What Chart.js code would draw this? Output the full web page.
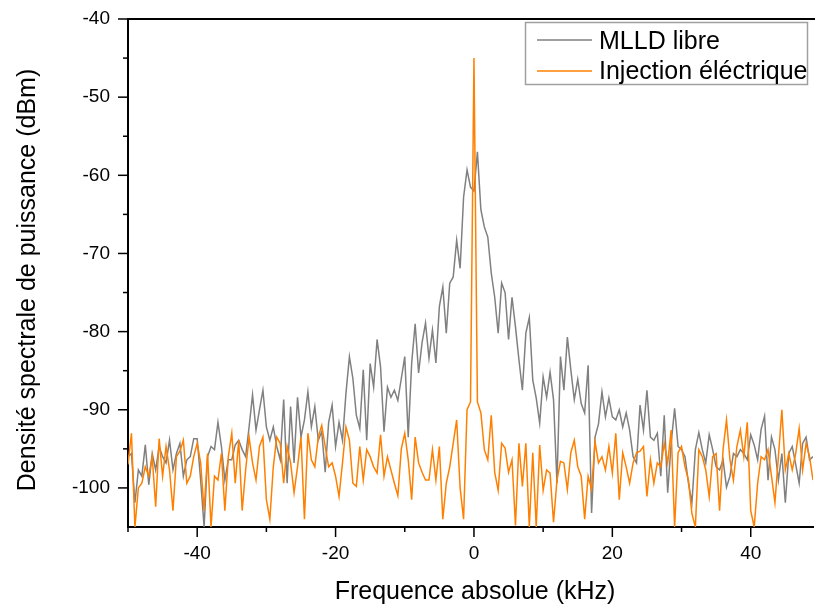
<!DOCTYPE html>
<html>
<head>
<meta charset="utf-8">
<script src="https://cdn.jsdelivr.net/npm/chart.js@4.4.1/dist/chart.umd.min.js"></script>
<style>
  html, body { margin: 0; padding: 0; background: #fff; }
  #wrap { width: 815px; height: 608px; }
</style>
</head>
<body>
<div id="wrap"><canvas id="spectre" width="815" height="608"></canvas></div>
<script>
// Grille en fréquence (kHz)
const freqStart = -50;
const freqStep = 0.5;

// MLLD libre (dBm), de -50 à 49.5 kHz
const mlldLibre = [
  -96, -95.6, -101.9, -97.7, -98.5, -94.5, -99.6, -95.6, -97.7, -94.7,
  -96, -96.8, -93.9, -97.7, -95.6, -94.3, -98.5, -96.4, -96, -93.7,
  -93.7, -99, -105, -96, -94.7, -95.1, -91.6, -94.7, -99, -96.4,
  -96.4, -94.5, -93.9, -95.1, -96, -92.2, -88.1, -92.6, -90, -87.5,
  -92.2, -93.9, -92.2, -94.7, -96.4, -88.7, -99.4, -89.6, -96.8, -88.4,
  -93.5, -91.3, -87.7, -92.2, -89.6, -93.9, -92.8, -98, -91.6, -89.4,
  -94.7, -91.6, -93.9, -87.9, -83.2, -86, -90.7, -92.4, -84.9, -93.9,
  -84.1, -87.1, -81, -84.5, -92.8, -87.1, -88.4, -87.5, -88.8, -86,
  -83.2, -93.5, -84, -79, -85.3, -81.4, -78.9, -83.4, -79.8, -84,
  -76.8, -74.3, -80.2, -73.8, -73, -68.3, -71.9, -62.8, -59.3, -61.5,
  -62, -57, -64.4, -66.6, -67.9, -72.5, -75.6, -80.2, -73.8, -75,
  -81, -75.6, -79.4, -83.6, -87.5, -80.2, -78.2, -86.2, -88.5, -91.7,
  -85.8, -88.4, -85.2, -88.7, -99.4, -83.2, -87.5, -80.7, -84.9, -88.7,
  -86.1, -89.2, -90.4, -84.3, -103.2, -93.5, -91.8, -87.7, -90.9, -88.5,
  -90.9, -91.3, -90, -92.2, -90.4, -92.6, -96, -96.8, -89.4, -92.6,
  -87.5, -93.5, -93.9, -93, -98.5, -90.7, -100.6, -94.3, -89.8, -94.7,
  -95.1, -96, -99.4, -101.9, -95.1, -92.9, -95.1, -96.8, -93.2, -95.1,
  -97.3, -97.7, -96.4, -99.9, -98.5, -95.6, -96, -95.1, -95.6, -96.4,
  -93.2, -94.5, -96.4, -92.5, -90.8, -99, -93.5, -95.1, -99, -95.6,
  -101.9, -95.6, -94.7, -97, -99.4, -94.3, -93.5, -96.4, -96, -95.5
];

// Injection électrique (dBm), même grille
const injection = [
  -97, -93, -105, -100, -99.4, -97.3, -98.5, -96, -102.4, -93.7,
  -98.5, -94.7, -97.7, -102.9, -96, -95.3, -93.9, -99.4, -98.5, -96,
  -94.3, -96.8, -102.9, -95.6, -105, -98.5, -99, -95.6, -102.9, -96,
  -93, -99.4, -93.9, -102.9, -97.7, -93.5, -96.8, -99, -94.7, -93.5,
  -101.5, -104, -97.3, -93.5, -94.3, -99.4, -94.7, -96.8, -100.6, -97.3,
  -93.5, -104, -93, -96.4, -97.3, -93.5, -92, -94.7, -97.3, -96.8,
  -98.5, -101.1, -96.8, -92.2, -93.9, -99.4, -99.8, -94.7, -99, -95.1,
  -96, -97.3, -98.1, -93.2, -98.5, -96, -97.7, -99.4, -101, -95,
  -93, -96.4, -101.5, -93.5, -96.8, -98, -99, -99, -95.1, -99,
  -94.7, -104, -99.4, -97.3, -94.3, -91.3, -100, -104, -90, -89,
  -45, -89, -90.4, -95.1, -96.4, -90.7, -98, -100.3, -94.3, -94.9,
  -98, -96.4, -104.8, -94.3, -99.8, -94.3, -105, -95.5, -105, -94.5,
  -100.3, -97.7, -98.1, -104.4, -99, -96.6, -96.8, -100.2, -95.5, -93.9,
  -97.3, -98.5, -104, -98.5, -100.2, -94.1, -96.8, -96, -97.7, -94.7,
  -98.1, -93, -101.5, -95.5, -97.3, -99.4, -96.8, -95.5, -95.3, -94.7,
  -101.1, -96.4, -99.4, -96.8, -97.3, -94.3, -96.8, -92.6, -105, -95.5,
  -94.7, -97.3, -99, -103.3, -105, -95.1, -96, -97.7, -101.1, -96,
  -95.6, -102.9, -95.1, -91.3, -96.4, -99, -94.7, -92.6, -96, -91.6,
  -102.9, -105, -99.4, -96, -96.4, -95.1, -98.5, -101.9, -96, -90,
  -97.7, -95.6, -97.7, -95.6, -92.4, -97.7, -94.3, -96, -99, -97
];

// Graduations
const xTicksMajeurs = [-40, -20, 0, 20, 40];
const xTicksMineurs = [-50, -30, -10, 10, 30];
const yTicksMajeurs = [-100, -90, -80, -70, -60, -50, -40];
const yTicksMineurs = [-95, -85, -75, -65, -55, -45];

const FONT = "'Liberation Sans', Arial, sans-serif";

function versPoints(valeurs) {
  return valeurs.map((v, i) => ({ x: freqStart + i * freqStep, y: v }));
}

// Traits de graduation, cadre, titres d'axes et légende
const cadrePlugin = {
  id: 'cadre',
  afterDraw(chart) {
    const { ctx, chartArea: a, scales: { x, y } } = chart;
    ctx.save();
    ctx.strokeStyle = '#000';
    ctx.lineWidth = 2;
    ctx.beginPath();
    ctx.moveTo(a.left - 1, a.top);
    ctx.lineTo(a.right + 2, a.top);
    ctx.stroke();

    ctx.lineWidth = 1.5;
    const trait = (x1, y1, x2, y2) => {
      ctx.beginPath(); ctx.moveTo(x1, y1); ctx.lineTo(x2, y2); ctx.stroke();
    };
    xTicksMajeurs.forEach(v => { const p = x.getPixelForValue(v); trait(p, a.bottom, p, a.bottom + 10); });
    xTicksMineurs.forEach(v => { const p = x.getPixelForValue(v); trait(p, a.bottom, p, a.bottom + 5); });
    yTicksMajeurs.forEach(v => { const p = y.getPixelForValue(v); trait(a.left, p, a.left - 10, p); });
    yTicksMineurs.forEach(v => { const p = y.getPixelForValue(v); trait(a.left, p, a.left - 5, p); });

    // titres d'axes
    ctx.fillStyle = '#000';
    ctx.font = '25px ' + FONT;
    ctx.textAlign = 'center';
    ctx.textBaseline = 'alphabetic';
    ctx.fillText('Frequence absolue (kHz)', 475, 599);
    ctx.save();
    ctx.translate(35, 280);
    ctx.rotate(-Math.PI / 2);
    ctx.fillText('Densité spectrale de puissance (dBm)', 0, 0);
    ctx.restore();

    // légende
    ctx.fillStyle = '#fff';
    ctx.fillRect(525, 22, 283, 62);
    ctx.strokeStyle = '#a0a0a0';
    ctx.lineWidth = 1.5;
    ctx.strokeRect(525.5, 22.5, 282, 62);
    ctx.strokeStyle = '#808080';
    trait(537, 40, 592, 40);
    ctx.strokeStyle = '#ff8000';
    trait(537, 71, 592, 71);
    ctx.fillStyle = '#000';
    ctx.textAlign = 'left';
    ctx.fillText('MLLD libre', 599, 49);
    ctx.fillText('Injection éléctrique', 599, 79);
    ctx.restore();
  }
};

new Chart(document.getElementById('spectre'), {
  type: 'line',
  data: {
    datasets: [
      {
        label: 'MLLD libre',
        data: versPoints(mlldLibre),
        borderColor: '#808080',
        borderWidth: 1.5,
        pointRadius: 0,
        tension: 0,
        order: 1
      },
      {
        label: 'Injection éléctrique',
        data: versPoints(injection),
        borderColor: '#ff8000',
        borderWidth: 1.5,
        pointRadius: 0,
        tension: 0,
        order: 0
      }
    ]
  },
  options: {
    responsive: false,
    animation: false,
    devicePixelRatio: 1,
    layout: { padding: { top: 19, right: 2, left: 0, bottom: 0 } },
    plugins: {
      legend: { display: false },
      tooltip: { enabled: false }
    },
    scales: {
      x: {
        type: 'linear',
        min: -50,
        max: 49,
        afterBuildTicks: s => { s.ticks = xTicksMajeurs.map(v => ({ value: v })); },
        afterFit: s => { s.height = 81; s.paddingLeft = 0; s.paddingRight = 0; },
        grid: { display: false, drawTicks: false },
        border: { display: true, color: '#000', width: 2 },
        ticks: {
          color: '#000',
          font: { family: FONT, size: 19 },
          padding: 15,
          maxRotation: 0
        }
      },
      y: {
        min: -105,
        max: -40,
        afterBuildTicks: s => { s.ticks = yTicksMajeurs.map(v => ({ value: v })); },
        afterFit: s => { s.width = 128; s.paddingTop = 0; s.paddingBottom = 0; },
        grid: { display: false, drawTicks: false },
        border: { display: true, color: '#000', width: 2 },
        ticks: {
          color: '#000',
          font: { family: FONT, size: 19 },
          padding: 18
        }
      }
    }
  },
  plugins: [cadrePlugin]
});
</script>
</body>
</html>
